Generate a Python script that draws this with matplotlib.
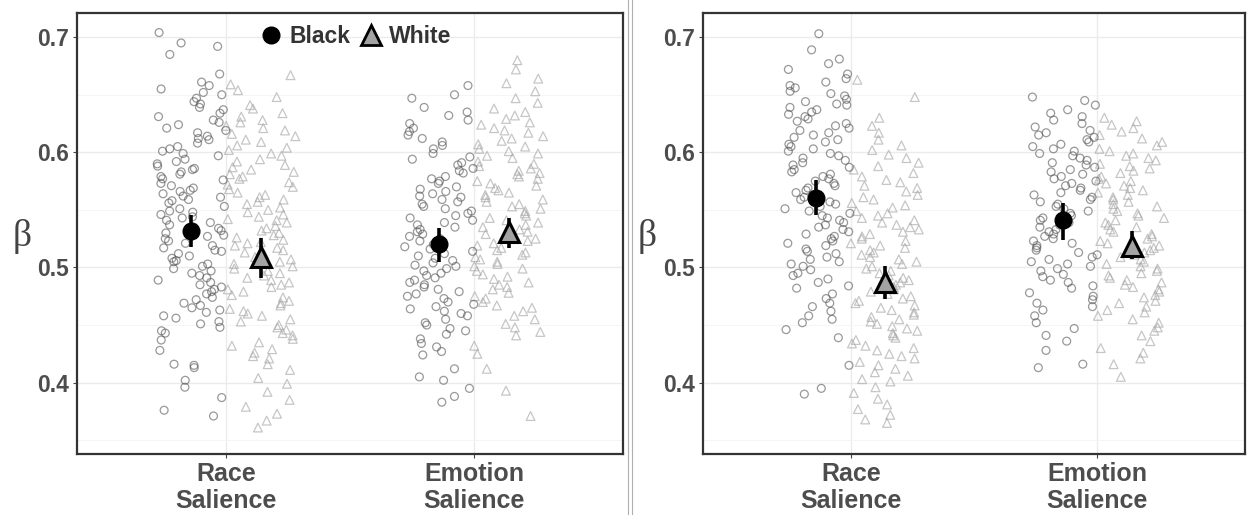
import matplotlib
matplotlib.use('Agg')  # Use non-interactive backend
import matplotlib.pyplot as plt
import numpy as np
from matplotlib.lines import Line2D

# categories on the x axis and the two groups
categories = ['Race\nSalience', 'Emotion\nSalience']
groups = ['Black', 'White']

# individual beta estimates (left panel)
left_race_black = [
    0.704, 0.695, 0.692, 0.685, 0.668, 0.661, 0.658, 0.655, 0.652, 0.650, 0.647, 0.644, 0.642,
    0.639, 0.637, 0.634, 0.631, 0.628, 0.626, 0.624, 0.621, 0.619, 0.617, 0.614, 0.612, 0.611,
    0.608, 0.605, 0.603, 0.601, 0.599, 0.597, 0.594, 0.592, 0.590, 0.588, 0.586, 0.585, 0.583,
    0.581, 0.579, 0.577, 0.576, 0.573, 0.571, 0.569, 0.567, 0.566, 0.564, 0.562, 0.561, 0.559,
    0.558, 0.556, 0.553, 0.551, 0.549, 0.548, 0.546, 0.544, 0.543, 0.541, 0.539, 0.537, 0.535,
    0.534, 0.532, 0.530, 0.528, 0.527, 0.525, 0.523, 0.521, 0.519, 0.517, 0.515, 0.514, 0.512,
    0.510, 0.508, 0.506, 0.505, 0.503, 0.501, 0.499, 0.497, 0.495, 0.493, 0.491, 0.489, 0.487,
    0.485, 0.483, 0.481, 0.479, 0.477, 0.474, 0.472, 0.469, 0.467, 0.465, 0.463, 0.461, 0.458,
    0.456, 0.453, 0.451, 0.448, 0.445, 0.443, 0.437, 0.428, 0.416, 0.415, 0.413, 0.402, 0.396,
    0.387, 0.376, 0.371]
left_race_white = [
    0.667, 0.659, 0.654, 0.648, 0.641, 0.638, 0.634, 0.631, 0.628, 0.626, 0.623, 0.621, 0.619,
    0.616, 0.614, 0.611, 0.609, 0.606, 0.604, 0.602, 0.599, 0.597, 0.594, 0.592, 0.589, 0.587,
    0.585, 0.583, 0.581, 0.579, 0.577, 0.574, 0.572, 0.570, 0.568, 0.565, 0.563, 0.561, 0.559,
    0.557, 0.555, 0.552, 0.550, 0.548, 0.546, 0.544, 0.542, 0.541, 0.539, 0.536, 0.534, 0.532,
    0.530, 0.528, 0.526, 0.524, 0.522, 0.521, 0.519, 0.517, 0.515, 0.513, 0.511, 0.509, 0.507,
    0.505, 0.503, 0.501, 0.499, 0.497, 0.495, 0.493, 0.491, 0.489, 0.487, 0.485, 0.483, 0.481,
    0.479, 0.476, 0.474, 0.471, 0.469, 0.467, 0.464, 0.462, 0.460, 0.458, 0.455, 0.453, 0.450,
    0.448, 0.446, 0.443, 0.441, 0.438, 0.435, 0.432, 0.429, 0.426, 0.423, 0.421, 0.416, 0.411,
    0.404, 0.399, 0.392, 0.385, 0.379, 0.373, 0.367, 0.361]
left_emotion_black = [
    0.658, 0.650, 0.647, 0.639, 0.635, 0.632, 0.628, 0.625, 0.621, 0.618, 0.615, 0.612, 0.609,
    0.606, 0.603, 0.599, 0.596, 0.594, 0.591, 0.589, 0.586, 0.584, 0.582, 0.579, 0.577, 0.575,
    0.573, 0.570, 0.568, 0.566, 0.564, 0.562, 0.561, 0.559, 0.557, 0.555, 0.553, 0.551, 0.549,
    0.547, 0.545, 0.543, 0.541, 0.539, 0.537, 0.535, 0.533, 0.531, 0.529, 0.527, 0.525, 0.523,
    0.522, 0.520, 0.518, 0.516, 0.514, 0.512, 0.510, 0.508, 0.506, 0.504, 0.502, 0.501, 0.499,
    0.497, 0.495, 0.493, 0.491, 0.489, 0.487, 0.485, 0.483, 0.481, 0.479, 0.477, 0.475, 0.473,
    0.470, 0.468, 0.466, 0.464, 0.462, 0.460, 0.458, 0.455, 0.452, 0.450, 0.447, 0.445, 0.442,
    0.438, 0.434, 0.431, 0.427, 0.424, 0.412, 0.405, 0.402, 0.395, 0.388, 0.383]
left_emotion_white = [
    0.680, 0.672, 0.664, 0.660, 0.653, 0.647, 0.643, 0.638, 0.635, 0.632, 0.629, 0.626, 0.624,
    0.621, 0.619, 0.617, 0.614, 0.612, 0.610, 0.607, 0.605, 0.603, 0.601, 0.599, 0.597, 0.595,
    0.592, 0.590, 0.588, 0.586, 0.584, 0.582, 0.581, 0.579, 0.577, 0.575, 0.573, 0.571, 0.569,
    0.567, 0.565, 0.563, 0.561, 0.559, 0.557, 0.555, 0.553, 0.551, 0.549, 0.547, 0.545, 0.543,
    0.541, 0.539, 0.537, 0.535, 0.533, 0.531, 0.529, 0.527, 0.525, 0.523, 0.521, 0.519, 0.517,
    0.515, 0.513, 0.511, 0.509, 0.507, 0.505, 0.503, 0.501, 0.499, 0.497, 0.494, 0.492, 0.490,
    0.487, 0.485, 0.483, 0.481, 0.478, 0.475, 0.473, 0.470, 0.467, 0.465, 0.462, 0.458, 0.455,
    0.451, 0.448, 0.444, 0.441, 0.432, 0.425, 0.412, 0.393, 0.371]

# right panel
right_race_black = [
    0.703, 0.689, 0.681, 0.677, 0.672, 0.668, 0.664, 0.661, 0.658, 0.656, 0.653, 0.651, 0.649,
    0.646, 0.644, 0.642, 0.641, 0.639, 0.637, 0.635, 0.633, 0.631, 0.629, 0.627, 0.625, 0.623,
    0.621, 0.619, 0.617, 0.615, 0.613, 0.611, 0.609, 0.607, 0.605, 0.603, 0.601, 0.599, 0.597,
    0.595, 0.593, 0.591, 0.589, 0.587, 0.585, 0.583, 0.581, 0.579, 0.577, 0.575, 0.573, 0.571,
    0.569, 0.567, 0.565, 0.563, 0.561, 0.559, 0.557, 0.555, 0.553, 0.551, 0.549, 0.547, 0.545,
    0.543, 0.541, 0.539, 0.537, 0.535, 0.533, 0.531, 0.529, 0.527, 0.525, 0.523, 0.521, 0.519,
    0.516, 0.514, 0.512, 0.509, 0.507, 0.505, 0.503, 0.501, 0.498, 0.495, 0.493, 0.490, 0.487,
    0.484, 0.482, 0.477, 0.473, 0.469, 0.466, 0.462, 0.458, 0.455, 0.452, 0.446, 0.439, 0.415,
    0.395, 0.390]
right_race_white = [
    0.663, 0.648, 0.630, 0.623, 0.617, 0.611, 0.606, 0.602, 0.598, 0.595, 0.591, 0.588, 0.585,
    0.582, 0.579, 0.576, 0.574, 0.571, 0.569, 0.566, 0.563, 0.561, 0.559, 0.556, 0.554, 0.552,
    0.549, 0.547, 0.545, 0.543, 0.541, 0.539, 0.537, 0.535, 0.533, 0.531, 0.529, 0.527, 0.525,
    0.523, 0.521, 0.519, 0.517, 0.515, 0.513, 0.511, 0.509, 0.507, 0.505, 0.503, 0.501, 0.499,
    0.497, 0.495, 0.493, 0.491, 0.489, 0.487, 0.485, 0.483, 0.481, 0.479, 0.477, 0.475, 0.473,
    0.471, 0.469, 0.467, 0.465, 0.463, 0.461, 0.459, 0.457, 0.455, 0.453, 0.451, 0.449, 0.447,
    0.445, 0.443, 0.441, 0.439, 0.437, 0.434, 0.432, 0.430, 0.428, 0.425, 0.423, 0.421, 0.418,
    0.415, 0.412, 0.409, 0.406, 0.403, 0.401, 0.396, 0.391, 0.386, 0.381, 0.377, 0.372, 0.368,
    0.365]
right_emotion_black = [
    0.648, 0.645, 0.641, 0.637, 0.634, 0.631, 0.628, 0.625, 0.622, 0.619, 0.617, 0.615, 0.613,
    0.611, 0.609, 0.607, 0.605, 0.603, 0.601, 0.599, 0.597, 0.595, 0.593, 0.591, 0.589, 0.587,
    0.585, 0.583, 0.581, 0.579, 0.577, 0.575, 0.573, 0.571, 0.569, 0.567, 0.565, 0.563, 0.561,
    0.559, 0.557, 0.555, 0.553, 0.551, 0.549, 0.547, 0.545, 0.543, 0.541, 0.539, 0.537, 0.535,
    0.533, 0.531, 0.529, 0.527, 0.525, 0.523, 0.521, 0.519, 0.517, 0.515, 0.513, 0.511, 0.509,
    0.507, 0.505, 0.503, 0.501, 0.499, 0.497, 0.494, 0.492, 0.489, 0.487, 0.484, 0.482, 0.478,
    0.475, 0.472, 0.469, 0.466, 0.463, 0.458, 0.452, 0.447, 0.441, 0.436, 0.428, 0.416, 0.413]
right_emotion_white = [
    0.630, 0.627, 0.624, 0.621, 0.618, 0.615, 0.612, 0.609, 0.606, 0.603, 0.601, 0.599, 0.597,
    0.595, 0.593, 0.590, 0.588, 0.586, 0.584, 0.582, 0.579, 0.577, 0.575, 0.573, 0.571, 0.569,
    0.567, 0.565, 0.563, 0.561, 0.559, 0.557, 0.555, 0.553, 0.551, 0.549, 0.547, 0.545, 0.543,
    0.541, 0.539, 0.537, 0.535, 0.533, 0.531, 0.529, 0.527, 0.525, 0.523, 0.521, 0.519, 0.517,
    0.515, 0.513, 0.511, 0.509, 0.507, 0.505, 0.503, 0.501, 0.499, 0.497, 0.495, 0.493, 0.491,
    0.489, 0.487, 0.485, 0.483, 0.481, 0.479, 0.476, 0.474, 0.471, 0.469, 0.466, 0.463, 0.461,
    0.458, 0.455, 0.452, 0.448, 0.445, 0.441, 0.436, 0.430, 0.426, 0.421, 0.416, 0.405]

# group means with interval ends, one value per category
left_black_mean = [0.532, 0.520]
left_black_lo = [0.518, 0.505]
left_black_hi = [0.546, 0.534]
left_white_mean = [0.509, 0.531]
left_white_lo = [0.491, 0.517]
left_white_hi = [0.526, 0.543]

right_black_mean = [0.560, 0.541]
right_black_lo = [0.546, 0.524]
right_black_hi = [0.576, 0.556]
right_white_mean = [0.487, 0.519]
right_white_lo = [0.473, 0.507]
right_white_hi = [0.501, 0.532]

FONT = 'Liberation Sans'
TEXT_GRAY = '#4d4d4d'
DODGE = 0.14
JITTER = 0.14


def jitter_offsets(n, seed):
    # deterministic scatter of horizontal positions (hash of the index)
    i = np.arange(n) + seed * 101.0
    frac = (np.sin(i * 12.9898 + 78.233) * 43758.5453) % 1.0
    return (frac - 0.5) * 2 * JITTER


def draw_panel(ax, black_sets, white_sets, black_stats, white_stats, seed):
    x = np.arange(1, len(categories) + 1)

    for i, vals in enumerate(black_sets):
        xs = x[i] - DODGE + jitter_offsets(len(vals), seed + i)
        ax.scatter(xs, vals, s=32, facecolors='none', edgecolors='#555555',
                   linewidths=0.9, alpha=0.6, zorder=3)
    for i, vals in enumerate(white_sets):
        xs = x[i] + DODGE + jitter_offsets(len(vals), seed + i + 5)
        ax.scatter(xs, vals, s=40, marker='^', facecolors='none',
                   edgecolors='#a8a8a8', linewidths=0.9, alpha=0.65, zorder=2)

    mean, lo, hi = black_stats
    mean = np.array(mean)
    ax.errorbar(x - DODGE, mean, yerr=[mean - np.array(lo), np.array(hi) - mean],
                fmt='o', color='black', ms=12, elinewidth=2.6, capsize=0, zorder=5)
    mean, lo, hi = white_stats
    mean = np.array(mean)
    ax.errorbar(x + DODGE, mean, yerr=[mean - np.array(lo), np.array(hi) - mean],
                fmt='^', color='black', mfc='#a3a3a3', mec='black', mew=2.2,
                ms=15, elinewidth=2.6, capsize=0, zorder=5)

    ax.set_xlim(0.4, 2.6)
    ax.set_ylim(0.338, 0.721)
    ax.set_xticks(x)
    ax.set_xticklabels(categories, fontsize=18, fontweight='bold', color=TEXT_GRAY,
                       family=FONT, linespacing=1.15)
    ax.set_yticks([0.4, 0.5, 0.6, 0.7])
    ax.set_yticklabels(['0.4', '0.5', '0.6', '0.7'], fontsize=16.5, fontweight='bold',
                       color=TEXT_GRAY, family=FONT)
    ax.set_yticks([0.35, 0.45, 0.55, 0.65], minor=True)
    ax.tick_params(axis='both', which='major', length=3, width=0.8, color='#444444', pad=3)
    ax.tick_params(axis='y', which='minor', length=0)
    ax.grid(which='major', color='#ebebeb', linewidth=1.0, zorder=0)
    ax.grid(which='minor', axis='y', color='#f4f4f4', linewidth=0.6, zorder=0)
    ax.set_axisbelow(True)
    for sp in ax.spines.values():
        sp.set_color('#333333')
        sp.set_linewidth(1.6)


fig = plt.figure(figsize=(12.47, 5.15), dpi=100)
ax_left = fig.add_axes([77 / 1247, 61 / 515, 546 / 1247, 441 / 515])
ax_right = fig.add_axes([703 / 1247, 61 / 515, 542 / 1247, 441 / 515])

draw_panel(ax_left, [left_race_black, left_emotion_black],
           [left_race_white, left_emotion_white],
           (left_black_mean, left_black_lo, left_black_hi),
           (left_white_mean, left_white_lo, left_white_hi), seed=1)
draw_panel(ax_right, [right_race_black, right_emotion_black],
           [right_race_white, right_emotion_white],
           (right_black_mean, right_black_lo, right_black_hi),
           (right_white_mean, right_white_lo, right_white_hi), seed=3)

# y axis titles (upright beta)
for xpix in (22, 647):
    fig.text(xpix / 1247, 1 - 236 / 515, 'β', family='Liberation Serif', fontsize=27,
             color='#444444', ha='center', va='center')

# legend in the left panel
handles = [Line2D([], [], marker='o', color='black', ls='none', ms=12),
           Line2D([], [], marker='^', mfc='#a3a3a3', mec='black', mew=2, ls='none', ms=14)]
ax_left.legend(handles, groups, loc='center', bbox_to_anchor=(0.51, 0.946), ncol=2,
               frameon=False, handletextpad=0.3, columnspacing=0.4, handlelength=1.0,
               prop={'family': FONT, 'weight': 'bold', 'size': 16.5}, labelcolor='#333333')

# thin separator between the two panels
for xpix in (628, 632):
    fig.add_artist(Line2D([xpix / 1247, xpix / 1247], [0, 1], color='#b0b0b0', lw=0.8))

plt.savefig('out.png', dpi=100)
plt.close()
